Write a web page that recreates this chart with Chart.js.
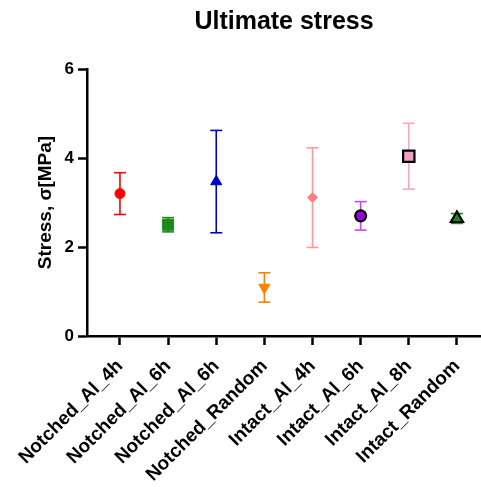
<!DOCTYPE html>
<html lang="en">
<head>
  <meta charset="UTF-8">
  <title>Ultimate stress</title>
  <script src="https://cdn.jsdelivr.net/npm/chart.js"></script>
  <style>
    body { margin: 0; background: #fff; }
  </style>
</head>
<body>
  <canvas id="stressChart" width="481" height="487"></canvas>

  <script>
    // Groups on the x axis
    const categories = ['Notched_Al_4h', 'Notched_Al_6h', 'Notched_Al_6h', 'Notched_Random',
                        'Intact_Al_4h', 'Intact_Al_6h', 'Intact_Al_8h', 'Intact_Random'];
    // Mean ultimate stress and its spread (MPa)
    const means = [3.20, 2.50, 3.47, 1.09, 3.11, 2.70, 4.04, 2.64];
    const spread = [0.47, 0.16, 1.15, 0.33, 1.12, 0.32, 0.74, 0.11];
    const yTicks = [0, 2, 4, 6];

    // Marker look per group
    const markerFill = ['#ff0000', '#1a8a1a', '#0000cc', '#ff8000', '#ff8080', '#a000e0', '#f4a0c4', '#1a8a1a'];
    const barColor = ['#ff0000', '#1a8a1a', '#0000cc', '#ff8000', '#ff9999', '#cc44ee', '#f5a8c8', '#1a8a1a'];
    const markerStyle = ['circle', 'rect', 'triangle', 'triangle', 'rectRot', 'circle', 'rect', 'triangle'];
    const markerRotation = [0, 0, 0, 180, 0, 0, 0, 0];
    const markerRadius = [5, 7.8, 6.4, 6.4, 5, 5.5, 8, 7];
    const markerEdge = ['#ff0000', '#1a8a1a', '#0000cc', '#ff8000', '#ff8080', '#000000', '#000000', '#000000'];
    const markerEdgeWidth = [1, 1, 1, 1, 1, 2.2, 2.2, 2.2];

    const font = 'Liberation Sans, Arial, sans-serif';

    const datasets = [{
      type: 'scatter',
      order: 0,
      data: means.map((m, i) => ({ x: i, y: m })),
      pointStyle: markerStyle,
      rotation: markerRotation,
      pointRadius: markerRadius,
      pointHoverRadius: markerRadius,
      backgroundColor: markerFill,
      borderColor: markerEdge,
      borderWidth: markerEdgeWidth
    }];

    // error bars: a vertical line with a flat cap at each end
    means.forEach((m, i) => {
      datasets.push({
        type: 'line',
        order: 1,
        data: [{ x: i, y: m - spread[i] }, { x: i, y: m + spread[i] }],
        borderColor: barColor[i],
        borderWidth: 1.6,
        pointStyle: 'line',
        pointRadius: 6,
        pointHoverRadius: 6,
        pointBorderColor: barColor[i],
        pointBorderWidth: 1.6
      });
    });

    new Chart(document.getElementById('stressChart'), {
      data: { datasets },
      options: {
        responsive: false,
        animation: false,
        layout: { padding: 0, autoPadding: false },
        plugins: {
          legend: { display: false },
          tooltip: { enabled: false },
          title: {
            display: true,
            text: 'Ultimate stress',
            fullSize: false,
            color: '#000',
            font: { family: font, size: 25, weight: 'bold' },
            padding: { top: 7, bottom: 32 }
          }
        },
        scales: {
          x: {
            type: 'linear',
            min: -0.685,
            max: 7.5,
            afterBuildTicks: scale => { scale.ticks = categories.map((c, i) => ({ value: i })); },
            afterFit: scale => {
              scale.height = 151;
              scale.paddingLeft = 0;
              scale.paddingRight = 0;
            },
            ticks: {
              callback: v => categories[v],
              autoSkip: false,
              maxRotation: 45,
              minRotation: 45,
              padding: 10,
              color: '#000',
              font: { family: font, size: 19, weight: 'bold' }
            },
            grid: { drawOnChartArea: false, tickLength: 9, tickWidth: 2.5, tickColor: '#000' },
            border: { color: '#000', width: 2.5 }
          },
          y: {
            min: 0,
            max: 6,
            afterBuildTicks: scale => { scale.ticks = yTicks.map(v => ({ value: v })); },
            afterFit: scale => {
              scale.width = 87;
              scale.paddingTop = 0;
              scale.paddingBottom = 0;
            },
            ticks: {
              padding: 4,
              color: '#000',
              font: { family: font, size: 17, weight: 'bold' }
            },
            title: {
              display: true,
              text: 'Stress, σ[MPa]',
              color: '#000',
              font: { family: font, size: 19, weight: 'bold' },
              padding: { top: 34, bottom: 0 }
            },
            grid: { drawOnChartArea: false, tickLength: 9, tickWidth: 2.5, tickColor: '#000' },
            border: { color: '#000', width: 2.5 }
          }
        }
      }
    });
  </script>
</body>
</html>
